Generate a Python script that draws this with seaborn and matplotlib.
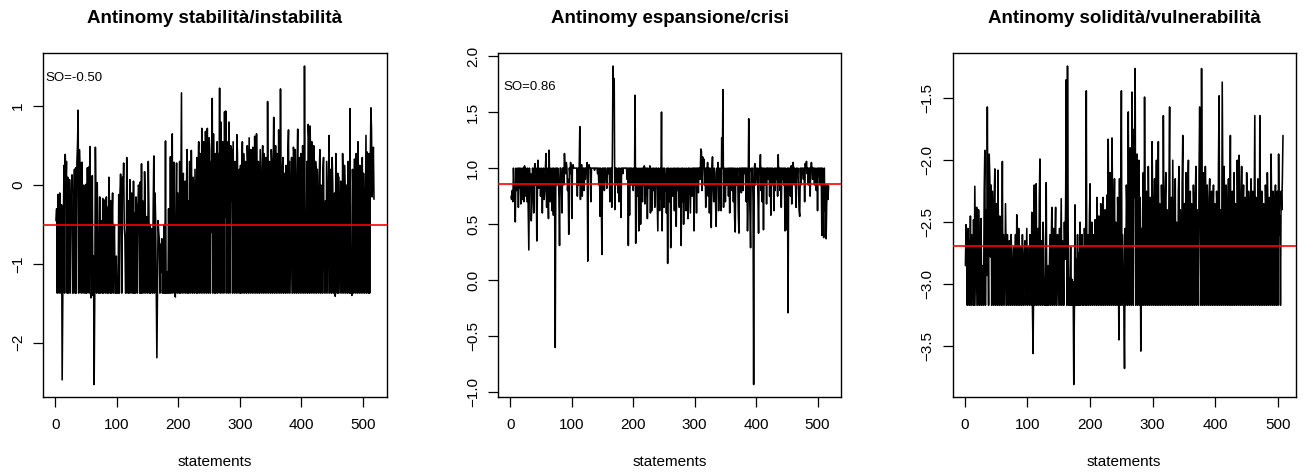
import numpy as np
import pandas as pd
import matplotlib
matplotlib.use("Agg")
import matplotlib.pyplot as plt
import seaborn as sns
from matplotlib.ticker import MultipleLocator, FuncFormatter

titles = ["Antinomy stabilità/instabilità", "Antinomy espansione/crisi", "Antinomy solidità/vulnerabilità"]
so_values = [-0.50, 0.86, -2.69]
so_labels = ["SO=-0.50", "SO=0.86", "SO=-2.69"]
x_label = "statements"

stab = [
-0.45,-0.30,-1.37,-0.12,-0.35,-1.37,-0.10,-0.55,-1.37,-0.25,-2.47,-1.37,-0.40,0.25,-1.37,0.39,-0.05,0.30,-1.37,0.10,
-1.37,-0.25,0.07,-1.37,-0.30,-0.05,0.13,-1.37,-1.37,-0.20,0.20,-1.37,0.22,-1.37,0.30,0.52,0.95,-1.37,0.45,0.20,
0.28,-1.37,0.29,-0.15,-1.37,0.00,-0.05,-1.37,-1.37,0.01,-1.37,0.22,-0.50,0.23,-1.37,0.49,-0.10,-1.43,-1.37,0.12,
-1.40,-0.90,-2.53,-1.37,0.48,-0.20,-1.37,0.03,-0.60,-1.37,-1.37,-0.15,-1.37,-0.45,-0.60,-1.37,-0.17,-1.37,-0.40,-0.19,
-1.37,-0.20,-0.15,-1.37,-0.28,-1.37,0.10,-0.30,-1.37,-0.20,-1.37,-0.45,-0.10,-1.37,-0.75,-0.50,-1.37,-1.37,-0.90,-1.37,
-1.37,-1.37,-0.12,-1.37,-0.10,0.14,-0.25,-1.37,0.10,-0.05,0.28,-0.55,-0.65,-1.37,-1.37,0.35,-0.40,-1.37,-0.20,-1.37,
0.07,-0.80,-1.37,-0.10,-0.45,-1.37,0.05,-1.37,-0.35,-1.37,-0.15,-0.30,-1.37,-0.35,0.00,-0.05,-1.37,0.04,-1.37,0.27,
-1.37,-0.20,-0.50,-1.37,0.17,-0.20,-1.37,-0.40,-0.65,-1.37,0.30,-0.30,-1.37,-0.50,-1.37,-0.55,-0.65,-1.37,-0.30,0.37,
-1.37,-0.10,-0.45,-1.37,-2.19,-1.37,-0.45,-0.60,-0.70,-1.37,-0.75,-1.10,-0.68,-1.37,-0.85,-1.37,-0.50,-1.37,0.56,-1.37,
-1.10,-1.37,-1.37,-0.30,-1.37,-1.37,0.36,-1.37,0.10,0.65,-1.37,-0.20,0.29,-1.37,-1.42,-0.40,0.28,-1.37,-0.10,-0.50,
-1.37,0.30,-1.37,-0.20,1.17,-1.37,-0.10,0.15,-1.37,-0.30,0.05,-1.37,-0.10,0.45,-1.37,-0.20,-1.37,0.30,-0.60,-1.37,
0.44,-0.30,-1.37,0.10,-0.15,-1.37,0.20,-0.60,-1.37,0.35,-1.37,0.05,0.55,-1.37,0.40,-0.60,-1.37,0.72,0.50,-1.37,
0.55,-0.30,-1.37,0.68,0.20,-1.37,0.72,-0.60,-1.37,0.60,0.45,-1.37,0.30,-0.60,1.10,-1.37,0.65,0.00,-1.37,0.40,
-1.37,0.25,0.55,-1.37,0.40,-0.30,1.23,-1.37,0.80,0.10,-1.37,0.55,0.40,-1.37,0.93,-0.40,0.94,-1.37,0.55,0.30,
-1.37,0.80,0.20,-1.37,0.50,-0.20,0.45,-1.37,0.55,-0.50,-1.37,0.30,0.10,-1.37,0.64,0.40,-1.37,-0.20,0.20,-1.37,
0.25,-1.37,0.10,0.55,-1.37,0.40,-0.05,-1.37,0.30,-0.20,-1.37,0.50,0.20,-1.37,0.60,-0.40,-1.37,0.45,0.30,-1.37,
0.48,-0.30,-1.37,0.62,0.10,-1.37,0.65,-0.20,-1.37,0.30,0.15,-1.37,0.45,-0.40,-1.37,0.20,0.50,-1.37,0.40,-0.20,
-1.37,0.35,0.10,-1.37,1.06,-0.30,-1.37,0.30,0.20,-1.37,0.45,0.25,-1.37,0.10,0.86,-1.37,-0.10,0.50,-1.37,0.40,
0.05,-1.37,0.70,0.30,-1.37,1.22,-0.50,-1.37,0.20,0.35,-1.37,0.15,-0.40,-1.37,0.25,0.05,-1.37,0.40,0.70,-1.37,
0.30,-0.50,-1.37,0.35,0.10,-1.37,0.48,0.40,-1.37,0.45,-0.60,-1.37,0.20,0.71,-1.37,0.35,0.00,-1.37,0.40,-0.30,
-1.37,0.50,0.10,-1.37,1.51,-0.50,-1.37,-1.05,0.30,-1.37,0.77,0.60,-1.37,0.75,0.40,-1.37,0.55,0.30,-1.37,0.50,
-0.20,-1.37,0.30,0.15,-1.37,0.20,-0.60,-1.37,0.10,0.45,-1.37,0.00,-0.30,-1.37,0.20,0.35,-1.37,-0.80,-0.20,-1.37,
0.30,-0.60,-1.37,0.10,0.63,-1.37,0.20,-0.10,-1.37,0.35,0.00,-1.37,-0.40,-0.10,-1.41,0.40,-0.20,-1.37,0.15,-1.37,
0.10,-0.60,-1.37,0.05,-0.30,-1.37,0.40,-0.10,-1.37,0.25,-0.05,-1.37,0.00,-0.20,-1.37,0.30,-0.40,-1.37,0.97,-1.37,
-0.80,-1.40,0.20,-0.10,-1.37,0.33,-0.60,-1.37,0.40,0.10,-1.37,0.55,-0.20,-1.37,0.25,-0.15,-1.37,-0.10,0.35,-1.37,
0.15,-0.50,-1.37,-0.40,0.63,-1.37,0.42,0.25,-1.37,0.40,-1.37,0.27,0.98,0.70,-0.15,0.20,0.48,-0.18,
]

espa = [
0.75,0.72,0.80,0.70,1.00,0.85,0.75,0.52,1.00,0.80,0.95,1.00,0.65,1.00,0.82,1.00,0.68,0.90,1.00,0.72,
1.00,0.70,1.02,0.75,1.00,0.85,0.70,1.00,0.60,0.27,1.00,0.80,0.95,0.53,0.70,1.00,0.98,0.60,1.00,1.04,
0.85,1.00,0.35,0.80,1.07,0.82,0.90,1.00,0.75,0.85,1.00,0.60,0.95,1.00,0.72,0.80,1.00,1.13,0.65,1.00,
0.80,0.55,1.16,0.85,0.70,1.00,0.90,0.62,1.00,0.58,1.00,0.80,-0.60,1.00,1.00,0.85,1.00,0.95,0.75,0.31,
1.00,1.00,0.90,0.60,1.00,1.00,0.85,1.13,1.00,0.95,1.05,1.00,0.80,0.90,0.41,1.00,0.95,1.05,1.00,0.55,
1.00,1.03,1.00,1.00,1.00,1.00,1.00,1.00,0.75,1.00,0.85,1.00,1.37,0.72,1.00,1.03,0.75,1.00,1.00,0.80,
1.00,0.90,1.00,1.00,1.05,0.17,1.00,1.03,1.00,1.00,0.70,1.00,1.00,1.00,1.00,1.00,0.98,1.00,1.00,1.00,
1.00,0.95,1.00,0.85,1.00,0.57,1.00,0.70,0.23,1.00,0.90,1.00,0.80,1.00,1.00,0.90,0.82,1.00,1.00,0.95,
1.00,0.70,1.00,1.00,0.65,1.10,1.91,1.60,1.80,0.63,1.00,0.85,1.00,0.95,0.78,1.00,0.70,1.00,0.98,0.56,
1.00,1.00,0.95,1.00,1.00,1.00,1.00,1.00,1.00,0.90,1.00,0.31,1.00,0.58,1.00,1.00,0.85,1.00,0.95,0.80,
1.00,0.85,1.65,0.33,1.00,0.95,0.75,1.00,0.44,0.80,1.00,0.50,0.90,1.00,0.70,1.00,0.85,1.02,0.68,1.00,
0.75,1.00,0.55,1.00,0.95,0.82,1.02,0.60,1.00,0.62,0.90,1.00,0.80,1.00,0.65,0.85,1.00,1.00,0.70,0.44,
1.00,0.85,0.62,1.00,0.72,1.50,0.44,0.90,1.00,0.65,1.00,0.80,0.95,0.60,1.00,0.15,1.00,0.85,0.70,1.00,
0.29,0.95,1.00,0.75,0.85,1.00,0.62,1.00,0.90,0.48,1.00,0.80,1.00,0.95,0.65,1.00,0.85,0.31,1.00,0.70,
1.00,0.50,0.90,1.00,0.75,0.62,1.00,0.85,0.55,1.00,1.00,0.80,0.60,1.00,0.95,0.75,1.00,1.00,0.44,1.00,
0.85,1.00,0.60,1.00,1.00,0.78,1.00,1.00,0.90,1.17,1.15,0.80,1.10,1.00,1.08,0.85,1.00,0.65,1.00,0.90,
1.05,0.75,1.00,0.60,1.00,0.90,0.47,1.00,1.10,0.85,0.70,1.00,0.95,0.68,0.48,1.00,0.85,1.05,0.62,0.90,
1.00,0.75,0.62,1.27,1.00,1.70,0.65,1.00,0.90,0.70,1.00,0.85,0.95,1.00,0.75,1.00,0.60,1.00,0.90,1.00,
0.80,1.00,0.70,1.00,0.55,0.43,1.00,0.85,0.95,1.00,0.60,0.42,1.00,0.90,1.00,0.78,1.00,1.00,0.80,1.00,
1.00,0.95,1.00,0.70,1.00,0.44,0.75,1.44,0.85,0.60,0.29,1.00,0.95,1.00,0.70,-0.93,1.00,1.04,0.85,1.00,
0.90,1.00,0.75,0.42,1.00,0.95,1.12,0.80,1.00,0.70,1.00,0.45,1.00,0.85,0.95,1.00,0.68,1.00,1.00,0.90,
1.00,0.75,1.00,0.58,1.00,0.85,1.00,0.95,0.62,1.00,0.80,1.00,0.90,1.00,0.75,1.12,0.85,1.00,0.80,1.00,
0.65,1.00,0.90,1.00,0.85,1.00,0.44,1.00,0.95,0.45,1.00,-0.29,1.00,0.85,1.00,0.75,1.02,0.68,1.00,1.05,
1.00,0.85,1.00,0.90,0.65,1.00,0.95,1.00,0.80,0.62,0.57,1.00,0.85,1.00,0.95,1.00,0.90,1.00,0.70,1.04,
1.00,1.06,0.95,1.00,0.85,1.00,1.00,0.75,1.00,1.05,1.00,0.90,1.00,1.00,0.85,1.00,0.95,0.80,1.00,0.62,
1.00,0.95,1.00,0.85,1.00,1.00,0.40,1.00,0.75,0.38,1.00,0.62,0.85,0.37,0.70,0.85,0.72,0.84,
]

soli = [
-2.85,-2.52,-2.80,-3.17,-2.55,-2.70,-3.17,-2.95,-2.45,-3.17,-2.60,-2.90,-3.17,-2.48,-3.17,-2.21,-2.70,-3.17,-2.38,-2.85,
-3.17,-2.40,-2.65,-3.17,-2.75,-2.47,-3.17,-2.85,-2.95,-3.17,-2.25,-1.92,-3.17,-2.40,-2.93,-1.57,-2.60,-3.17,-1.95,-2.15,
-2.78,-2.20,-3.17,-2.25,-2.55,-3.17,-2.30,-2.07,-3.17,-2.35,-2.60,-3.17,-2.08,-2.80,-3.17,-2.45,-2.70,-3.17,-2.85,-2.01,
-3.17,-2.60,-2.90,-3.17,-2.35,-2.75,-3.17,-2.60,-2.95,-3.17,-2.65,-2.85,-3.17,-2.60,-2.80,-3.17,-2.90,-2.70,-3.17,-2.85,
-2.60,-3.17,-2.44,-2.95,-3.17,-2.55,-2.80,-3.17,-2.70,-2.90,-3.17,-2.60,-3.05,-3.17,-2.75,-2.65,-3.17,-2.85,-2.55,-3.17,
-2.70,-2.95,-3.17,-2.60,-2.85,-3.17,-2.42,-3.17,-3.56,-2.95,-2.20,-3.17,-2.60,-2.19,-3.17,-2.75,-2.55,-3.17,-2.30,-1.99,
-3.17,-2.65,-2.80,-3.17,-2.50,-2.70,-3.17,-2.95,-3.17,-2.18,-3.17,-3.17,-2.85,-3.17,-2.90,-2.60,-3.17,-2.70,-2.38,-3.17,
-2.80,-2.55,-3.17,-2.65,-2.38,-3.17,-2.75,-2.60,-3.17,-2.85,-2.55,-3.17,-2.70,-2.31,-3.17,-2.65,-2.80,-3.17,-2.50,-2.80,
-2.35,-1.35,-3.17,-1.24,-2.55,-3.17,-2.95,-3.17,-2.70,-3.17,-2.96,-3.17,-2.98,-3.81,-3.17,-2.36,-3.17,-2.80,-3.17,-2.60,
-3.17,-2.75,-3.17,-2.50,-3.17,-2.85,-2.60,-3.17,-2.70,-3.17,-2.55,-2.90,-3.17,-1.44,-3.17,-2.80,-2.60,-3.17,-2.45,-2.19,
-3.17,-2.70,-2.50,-3.17,-2.60,-2.85,-3.17,-2.48,-2.70,-3.17,-2.30,-2.55,-3.17,-2.45,-2.75,-3.17,-2.35,-2.60,-3.17,-2.50,
-2.30,-3.17,-2.65,-2.40,-3.17,-2.55,-2.28,-3.17,-1.83,-2.60,-3.17,-2.10,-2.45,-3.17,-1.82,-2.35,-3.17,-2.55,-2.15,-3.17,
-2.50,-2.75,-3.17,-2.30,-2.60,-3.45,-2.15,-3.17,-2.40,-1.44,-3.17,-2.60,-2.90,-3.17,-3.68,-2.55,-3.17,-2.20,-2.40,-3.17,
-1.61,-2.55,-3.17,-1.90,-2.40,-3.17,-1.45,-2.10,-3.17,-1.75,-2.30,-1.26,-3.17,-2.20,-1.95,-3.17,-2.50,-2.00,-3.17,-2.30,
-3.54,-2.55,-3.17,-2.40,-2.10,-3.17,-1.49,-2.60,-3.17,-2.25,-2.60,-3.17,-2.05,-2.45,-3.17,-2.30,-2.60,-3.17,-1.85,-2.40,
-3.17,-2.55,-2.15,-3.17,-2.40,-2.00,-3.17,-2.60,-1.85,-3.17,-2.35,-2.55,-3.17,-2.20,-2.45,-3.17,-1.64,-2.50,-3.17,-2.30,
-2.10,-3.17,-2.40,-2.65,-3.17,-2.20,-1.57,-3.17,-2.45,-2.30,-3.17,-2.00,-2.55,-3.17,-2.35,-2.15,-3.17,-2.50,-2.60,-3.17,
-2.25,-2.05,-3.17,-2.40,-2.60,-3.17,-2.20,-1.80,-3.17,-2.55,-2.35,-3.17,-2.10,-2.45,-3.17,-2.30,-2.00,-3.17,-2.55,-2.25,
-3.17,-2.35,-2.65,-3.17,-2.20,-2.50,-3.17,-2.30,-2.05,-3.17,-2.40,-2.60,-3.17,-2.10,-1.57,-2.45,-3.17,-1.26,-2.40,-3.17,
-2.10,-2.50,-3.17,-2.05,-2.35,-3.17,-2.20,-2.60,-3.17,-2.30,-2.15,-3.17,-2.45,-2.25,-3.17,-2.55,-2.20,-3.17,-2.35,-2.60,
-3.17,-2.25,-2.45,-3.17,-2.05,-1.48,-3.17,-2.40,-2.60,-3.17,-1.37,-2.30,-3.17,-2.05,-2.45,-3.17,-2.20,-2.55,-3.17,-2.35,
-2.15,-3.17,-2.60,-1.80,-3.17,-2.40,-2.25,-3.17,-2.55,-2.10,-3.17,-2.35,-2.60,-3.17,-2.00,-2.45,-3.17,-1.96,-2.30,-3.17,
-2.50,-2.05,-3.17,-2.40,-2.20,-3.17,-2.55,-2.30,-3.17,-2.10,-2.45,-3.17,-2.25,-2.60,-3.17,-2.35,-2.15,-3.17,-2.50,-2.25,
-3.17,-2.40,-1.64,-3.17,-2.30,-2.55,-3.17,-2.15,-2.40,-3.17,-1.64,-2.50,-3.17,-2.25,-2.45,-3.17,-2.35,-2.60,-3.17,-2.20,
-2.50,-3.17,-2.10,-2.40,-3.17,-2.30,-2.55,-3.17,-1.95,-2.45,-3.17,-2.25,-2.60,-3.17,-2.35,-2.20,-3.17,-2.50,-2.25,-3.17,
-1.95,-2.60,-2.45,-3.17,-2.25,-2.40,-2.15,-1.80,
]

series = [stab, espa, soli]
y_steps = [1.0, 0.5, 0.5]

sns.set_theme(style="white")
plt.rcParams["font.family"] = ["Liberation Sans", "DejaVu Sans"]
for key in ["text.color", "axes.labelcolor", "xtick.color", "ytick.color", "axes.edgecolor"]:
    plt.rcParams[key] = "black"

W, H = 1303, 473
fig = plt.figure(figsize=(W / 100, H / 100), dpi=100)
fig.patch.set_facecolor("white")

boxes = [(43.3, 386.7), (498.3, 841.3), (952.7, 1295.7)]
top_px, bot_px = 53.3, 397.3

for i, (vals, title, so, lab, step) in enumerate(zip(series, titles, so_values, so_labels, y_steps)):
    l, r = boxes[i]
    ax = fig.add_axes([l / W, (H - bot_px) / H, (r - l) / W, (bot_px - top_px) / H])
    df = pd.DataFrame({"statements": np.arange(1, len(vals) + 1), "value": vals})
    sns.lineplot(data=df, x="statements", y="value", ax=ax, color="black",
                 linewidth=1.15, estimator=None, errorbar=None)
    ax.margins(x=0.04, y=0.04)
    ax.autoscale_view()
    ax.axhline(so, color="#ff0000", linewidth=1.2, zorder=3)
    ymax = max(vals)
    ax.text(31, 0.9 * ymax, lab, ha="center", va="center", fontsize=9.5, color="black", clip_on=True)
    ax.xaxis.set_major_locator(MultipleLocator(100))
    ax.yaxis.set_major_locator(MultipleLocator(step))
    fmt = "{:.0f}" if step == 1.0 else "{:.1f}"
    ax.yaxis.set_major_formatter(FuncFormatter(lambda v, p, f=fmt: f.format(v).replace("-", "\u2212")))
    ax.tick_params(axis="both", direction="out", length=7, width=0.9, color="black",
                   labelsize=11, labelcolor="black", bottom=True, left=True)
    ax.tick_params(axis="x", pad=8)
    ax.tick_params(axis="y", pad=6)
    for t in ax.get_yticklabels():
        t.set_rotation(90)
        t.set_va("center")
    for s in ax.spines.values():
        s.set_visible(True)
        s.set_color("black")
        s.set_linewidth(1.0)
    ax.set_ylabel("")
    ax.set_xlabel(x_label, fontsize=11, color="black")
    ax.xaxis.set_label_coords(0.5, -(461.7 - bot_px) / (bot_px - top_px))
    ax.xaxis.label.set_va("center")
    ax.set_title("")
    ax.text(0.5, 1 + (top_px - 18) / (bot_px - top_px), title, transform=ax.transAxes,
            ha="center", va="center", fontsize=13.5, fontweight="bold", color="black")
    ax.grid(False)

fig.savefig("out.png", dpi=100, facecolor="white")
